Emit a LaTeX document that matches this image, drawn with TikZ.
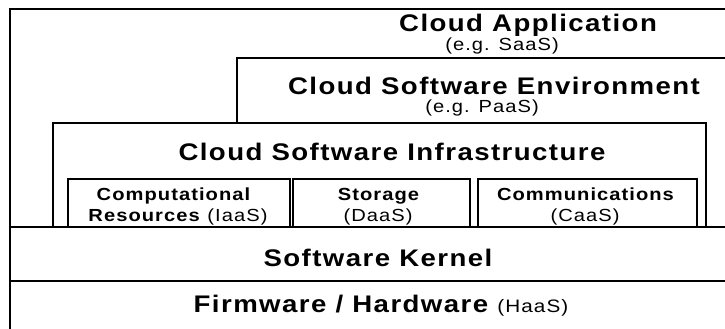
\documentclass[tikz,border=0pt]{standalone}
\usepackage{fontspec}
\setmainfont{Liberation Sans}[FakeStretch=1.15,LetterSpace=6]
\begin{document}
\begin{tikzpicture}[x=1pt,y=-1pt,
  layer/.style={draw=black, line width=1.6pt, fill=white, inner sep=0pt, outer sep=0pt, anchor=north west},
  big/.style={font=\fontsize{24}{26}\selectfont\bfseries, anchor=base, inner sep=0pt, text depth=0pt},
  sub/.style={font=\fontsize{17.5}{19}\selectfont, anchor=base, inner sep=0pt},
  small/.style={font=\fontsize{17.5}{19}\selectfont, anchor=base, inner sep=0pt, text depth=0pt}]
\useasboundingbox (0,0) rectangle (725,329);
\clip (0,0) rectangle (725,329);
\fill[white] (0,0) rectangle (725,329);
% layers
\node[layer, minimum width=760pt, minimum height=360pt] (app) at (10,9) {};
\node[layer, minimum width=520pt, minimum height=200pt] (env) at (237,58) {};
\node[layer, minimum width=653pt, minimum height=104pt] (infra) at (53,123) {};
\node[layer, minimum width=222pt, minimum height=48pt] (comp) at (68,179) {};
\node[layer, minimum width=177pt, minimum height=48pt] (stor) at (293,179) {};
\node[layer, minimum width=219pt, minimum height=48pt] (comm) at (478,179) {};
\node[layer, minimum width=760pt, minimum height=54pt] (kern) at (10,227) {};
\node[layer, minimum width=760pt, minimum height=60pt] (firm) at (10,281) {};
% texts
\node[big] (tApp) at (528,32) {Cloud Application};
\node[sub] (tSaaS) at (502,51) {(e.g. SaaS)};
\node[big] (tEnv) at (494,94) {Cloud Software Environment};
\node[sub] (tPaaS) at (482,112) {(e.g. PaaS)};
\node[big] (tInfra) at (392,160) {Cloud Software Infrastructure};
\node[small] (tComp1) at (174,200) {\textbf{Computational}};
\node[small] (tComp2) at (178,221) {\textbf{Resources} (IaaS)};
\node[small] (tSto1) at (379,200) {\textbf{Storage}};
\node[small] (tSto2) at (378,221) {(DaaS)};
\node[small] (tCom1) at (586,200) {\textbf{Communications}};
\node[small] (tCom2) at (585,221) {(CaaS)};
\node[big] (tKer) at (378,266) {Software Kernel};
\node[big] (tFw) at (381,312) {Firmware / Hardware {\fontsize{18}{19}\selectfont\mdseries(HaaS)}};
\end{tikzpicture}
\end{document}
